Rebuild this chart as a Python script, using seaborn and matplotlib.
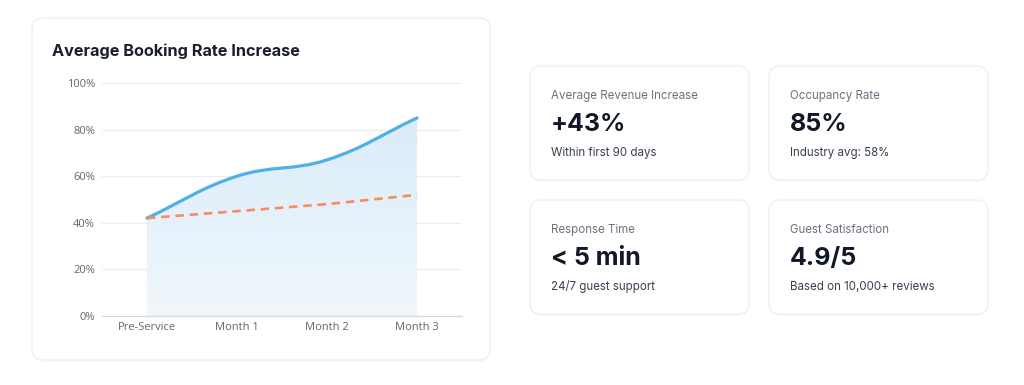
import numpy as np
import matplotlib
matplotlib.use("Agg")
import matplotlib.pyplot as plt
import seaborn as sns
from matplotlib.patches import FancyBboxPatch, PathPatch
from matplotlib.path import Path

# data
categories = ["Pre-Service", "Month 1", "Month 2", "Month 3"]
with_service = [42, 60, 67, 85]
industry_avg = [42, 45, 48, 52]
y_ticks = [0, 20, 40, 60, 80, 100]

stat_labels = ["Average Revenue Increase", "Occupancy Rate", "Response Time", "Guest Satisfaction"]
stat_values = ["+43%", "85%", "< 5 min", "4.9/5"]
stat_notes = ["Within first 90 days", "Industry avg: 58%", "24/7 guest support", "Based on 10,000+ reviews"]

sns.set_theme(style="white")
plt.rcParams['font.family'] = ['Inter', 'DejaVu Sans']

BLUE = "#4fb0e6"
ORANGE = "#f98b5e"

fig = plt.figure(figsize=(10.24, 3.85), dpi=100)
fig.patch.set_facecolor("white")

# background layer in pixel coords for the cards
bg = fig.add_axes([0, 0, 1, 1], zorder=0)
bg.set_xlim(0, 1024)
bg.set_ylim(385, 0)
bg.axis("off")


def card(x0, y0, x1, y1):
    shadow = FancyBboxPatch((x0, y0 + 1.5), x1 - x0, y1 - y0,
                            boxstyle="round,pad=0,rounding_size=11",
                            fc="#f5f5f5", ec="none", zorder=1)
    box = FancyBboxPatch((x0, y0), x1 - x0, y1 - y0,
                         boxstyle="round,pad=0,rounding_size=11",
                         fc="white", ec="#ededed", lw=0.8, zorder=2)
    bg.add_patch(shadow)
    bg.add_patch(box)


card(32, 18, 490, 360)
bg.text(52, 56, "Average Booking Rate Increase", fontsize=11.7, fontweight="bold",
        color="#1a1f2e", va="baseline", ha="left", zorder=3)

# stat cards
card_boxes = [(530, 66, 749, 180), (769, 66, 988, 180),
              (530, 200, 749, 314), (769, 200, 988, 314)]
for (x0, y0, x1, y1), lab, val, note in zip(card_boxes, stat_labels, stat_values, stat_notes):
    card(x0, y0, x1, y1)
    tx = x0 + 21
    bg.text(tx, y0 + 33, lab, fontsize=8.3, color="#6b7280", va="baseline", zorder=3)
    bg.text(tx, y0 + 65, val, fontsize=18, fontweight="bold", color="#111827",
            va="baseline", zorder=3)
    bg.text(tx, y0 + 90, note, fontsize=8.3, color="#374151", va="baseline", zorder=3)

# chart axes
ax = fig.add_axes([102 / 1024, 1 - 316 / 385, 360 / 1024, 233 / 385], zorder=2)
ax.set_facecolor("none")
ax.set_xlim(0, 4)
ax.set_ylim(0, 100)
xs = np.arange(len(categories)) + 0.5


def spline_path(x, y, tension=0.4):
    # Chart.js style bezier, computed in display space
    pts = ax.transData.transform(np.column_stack([x, y]))
    n = len(pts)
    cps = []
    for i in range(n):
        prev = pts[max(i - 1, 0)]
        cur = pts[i]
        nxt = pts[min(i + 1, n - 1)]
        d01 = np.hypot(*(cur - prev))
        d12 = np.hypot(*(nxt - cur))
        tot = d01 + d12
        s01 = d01 / tot if tot else 0
        s12 = d12 / tot if tot else 0
        cps.append((cur - tension * s01 * (nxt - prev), cur + tension * s12 * (nxt - prev)))
    verts = [pts[0]]
    codes = [Path.MOVETO]
    for i in range(n - 1):
        verts += [cps[i][1], cps[i + 1][0], pts[i + 1]]
        codes += [Path.CURVE4] * 3
    inv = ax.transData.inverted()
    return inv.transform(np.array(verts)), codes


# gridlines
for t in y_ticks:
    ax.axhline(t, color="#ececec", lw=0.8, zorder=0)

# blue area with gradient
v, c = spline_path(xs, with_service)
area_verts = np.vstack([v, [[xs[-1], 0], [xs[0], 0], v[0]]])
area_codes = c + [Path.LINETO, Path.LINETO, Path.CLOSEPOLY]
area = PathPatch(Path(area_verts, area_codes), fc="none", ec="none")
ax.add_patch(area)
grad = np.linspace(0, 1, 256).reshape(-1, 1)
cmap = matplotlib.colors.LinearSegmentedColormap.from_list("g", ["#f0f7fc", "#daecf9"])
im = ax.imshow(grad, extent=[xs[0], xs[-1], 0, max(with_service)], origin="lower",
               cmap=cmap, aspect="auto", zorder=1)
im.set_clip_path(area)

line = PathPatch(Path(v, c), fc="none", ec=BLUE, lw=2.3, capstyle="round", zorder=3)
ax.add_patch(line)

# industry baseline (dashed)
sns.lineplot(x=xs, y=industry_avg, ax=ax, color=ORANGE, lw=1.9, zorder=4)
ax.lines[-1].set_dashes((3.2, 2.2))

# axes styling
for s in ["left", "top", "right"]:
    ax.spines[s].set_visible(False)
ax.spines["bottom"].set_color("#d5d8dd")
ax.spines["bottom"].set_linewidth(0.9)
ax.set_yticks(y_ticks)
ax.set_yticklabels([f"{t}%" for t in y_ticks], fontfamily="Open Sans", fontsize=8, color="#666666")
ax.set_xticks(xs)
ax.set_xticklabels(categories, fontfamily="Open Sans", fontsize=8, color="#666666")
ax.set_xticks(np.arange(5), minor=True)
ax.tick_params(axis="x", which="major", length=0, pad=4.5)
ax.tick_params(axis="x", which="minor", length=3.5, color="#d5d8dd", width=0.9)
ax.tick_params(axis="y", length=0, pad=5)
ax.set_xlabel("")
ax.set_ylabel("")
ax.grid(False)

fig.savefig("out.png", dpi=100, facecolor="white")
